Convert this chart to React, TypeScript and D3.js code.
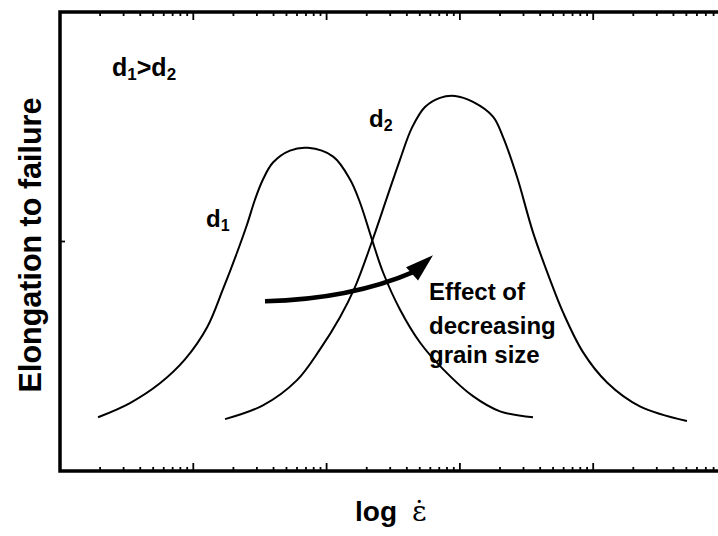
import React from 'react';
import * as d3 from 'd3';

const width = 718;
const height = 536;
const plotLeft = 60;
const plotTop = 12;
const plotBottom = 471;
const decadePx = 133.3;

// strain rate (arbitrary units, log axis) vs elongation to failure (arbitrary %)
const rateD1 = [1.93, 3.35, 5.62, 8.66, 12.7, 16.7, 21.3, 25.3, 29.0, 33.3, 39.6, 53.1, 72.4, 112, 150, 178, 219, 265, 355, 502, 747, 1254, 2000, 3535];
const elongD1 = [11.7, 14.8, 19.1, 24.3, 31.3, 39.6, 47.6, 53.7, 59.1, 63.5, 67.2, 69.8, 70.4, 68.5, 63.5, 58.5, 50.4, 43.3, 35.2, 28.0, 22.2, 16.3, 13.0, 11.7];

const rateD2 = [17.3, 33.3, 60.0, 89.2, 126, 163, 219, 284, 355, 437, 547, 709, 919, 1254, 1771, 2104, 2681, 3535, 4740, 5930, 8380, 12700, 22400, 50500];
const elongD2 = [11.3, 14.3, 19.8, 26.5, 33.5, 40.0, 50.0, 59.6, 67.8, 74.8, 79.3, 81.3, 81.7, 80.4, 77.2, 72.8, 64.1, 52.0, 41.7, 34.6, 25.9, 19.3, 14.1, 10.9];

// arrow: start, control, shaft end, tip  (rate, elongation)
const arrowRate = [34.5, 150, 460, 628];
const arrowElong = [37.0, 37.4, 43.5, 47.0];

const yTicks = [0, 50, 100];

const font = '"Liberation Sans", Arial, Helvetica, sans-serif';

const App = () => {
  const x = d3.scaleLog().domain([1, 1e5]).range([plotLeft, plotLeft + 5 * decadePx]);
  const y = d3.scaleLinear().domain([0, 100]).range([plotBottom, plotTop]);

  const lineGen = d3.line<[number, number]>()
    .x(d => x(d[0]))
    .y(d => y(d[1]))
    .curve(d3.curveCatmullRom.alpha(0.5));

  const d1 = rateD1.map((r, i) => [r, elongD1[i]] as [number, number]);
  const d2 = rateD2.map((r, i) => [r, elongD2[i]] as [number, number]);

  const xTicks = x.ticks();
  const isMajor = (v: number) => Math.abs(Math.log10(v) - Math.round(Math.log10(v))) < 1e-6;

  // arrow geometry
  const ap = arrowRate.map((r, i) => [x(r), y(arrowElong[i])]);
  const shaft = `M${ap[0][0]},${ap[0][1]} Q${ap[1][0]},${ap[1][1]} ${ap[2][0]},${ap[2][1]}`;
  const dx = ap[3][0] - ap[2][0];
  const dy = ap[3][1] - ap[2][1];
  const len = Math.sqrt(dx * dx + dy * dy);
  const ux = dx / len, uy = dy / len;
  const headLen = 28, headHalf = 9;
  const bx = ap[3][0] - ux * headLen, by = ap[3][1] - uy * headLen;
  const head = `M${ap[3][0]},${ap[3][1]} L${bx - uy * headHalf},${by + ux * headHalf} L${bx + uy * headHalf},${by - ux * headHalf} Z`;

  return (
    <svg width={width} height={height} style={{ position: 'absolute', left: 0, top: 0, background: '#fff' }}>
      {/* ticks */}
      {xTicks.map((t, i) => {
        const l = isMajor(t) ? 8 : 4;
        return (
          <g key={i}>
            <line x1={x(t)} x2={x(t)} y1={plotBottom} y2={plotBottom - l} stroke="#000" strokeWidth={1.8} />
            <line x1={x(t)} x2={x(t)} y1={plotTop} y2={plotTop + l} stroke="#000" strokeWidth={1.8} />
          </g>
        );
      })}
      {yTicks.map((t, i) => (
        <line key={i} x1={plotLeft} x2={plotLeft + 5} y1={y(t)} y2={y(t)} stroke="#000" strokeWidth={1.8} />
      ))}
      {/* frame */}
      <path d={`M${width + 5},${plotTop} H${plotLeft} V${plotBottom} H${width + 5}`} fill="none" stroke="#000" strokeWidth={3.5} />

      {/* curves */}
      <path d={lineGen(d1) || ''} fill="none" stroke="#000" strokeWidth={2} />
      <path d={lineGen(d2) || ''} fill="none" stroke="#000" strokeWidth={2} />

      {/* arrow */}
      <path d={shaft} fill="none" stroke="#000" strokeWidth={4.5} />
      <path d={head} fill="#000" />

      {/* labels */}
      <g fontFamily={font} fontWeight="bold" fill="#000">
        <text x={112} y={76} fontSize={25}>
          d<tspan fontSize={17} dy={4}>1</tspan><tspan dy={-4}>&gt;d</tspan><tspan fontSize={17} dy={4}>2</tspan>
        </text>
        <text x={206} y={227} fontSize={24}>
          d<tspan fontSize={16} dy={4}>1</tspan>
        </text>
        <text x={369} y={127} fontSize={24}>
          d<tspan fontSize={16} dy={4}>2</tspan>
        </text>
        <text x={429} y={300} fontSize={24}>Effect of</text>
        <text x={429} y={334} fontSize={24}>decreasing</text>
        <text x={429} y={363} fontSize={24}>grain size</text>
        <text transform={`translate(41,245) rotate(-90)`} textAnchor="middle" fontSize={30.5}>Elongation to failure</text>
        <text x={355} y={521} fontSize={28}>log</text>
      </g>
      <text x={412} y={521} fontSize={28} fontFamily='"DejaVu Serif", "Liberation Serif", serif' fill="#000">ɛ̇</text>
    </svg>
  );
};

export default App;
